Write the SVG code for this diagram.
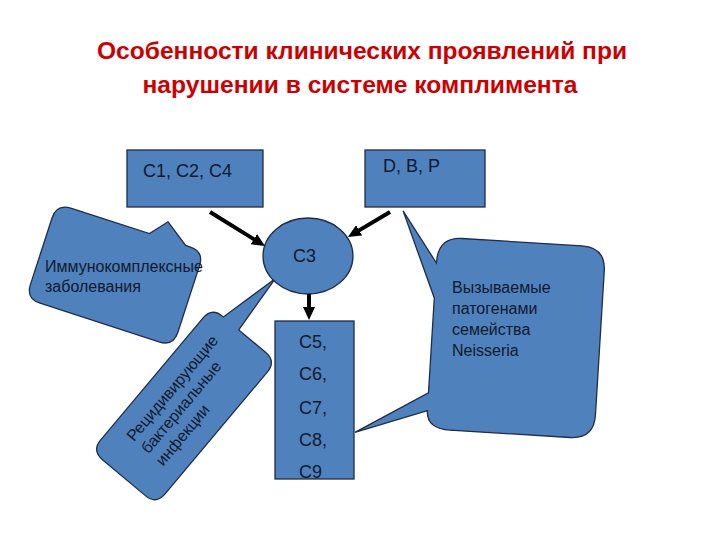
<svg xmlns="http://www.w3.org/2000/svg" width="720" height="540" viewBox="0 0 720 540">
<defs>
<style>
.title{font-family:"Liberation Sans",Arial,sans-serif;font-weight:bold;font-size:23px;fill:#CC0000;text-anchor:middle}
.lbl{font-family:"Liberation Sans",Arial,sans-serif;font-size:18px;fill:#111a2e}
.ct{font-family:"Liberation Sans",Arial,sans-serif;font-size:16px;fill:#111a2e}
.shape{fill:#4F81BD;stroke:#1F2D4A;stroke-width:1.3}
.arrow{stroke:#000;stroke-width:4;fill:none}
</style>
<marker id="ah" viewBox="0 0 13 12" refX="4" refY="6" markerWidth="13" markerHeight="12" markerUnits="userSpaceOnUse" orient="auto">
<path d="M0,0 L13,6 L0,12 z" fill="#000"/>
</marker>
</defs>
<rect width="720" height="540" fill="#fff"/>
<g id="title">
<text class="title" x="362" y="59" textLength="530" lengthAdjust="spacingAndGlyphs">Особенности клинических проявлений  при</text>
<text class="title" x="360" y="93" textLength="435" lengthAdjust="spacingAndGlyphs">нарушении в системе комплимента</text>
</g>
<g id="callout-immune">
<path class="shape" transform="translate(115,275) rotate(18)" d="M-62,-50 L20,-50 L34,-67 L58,-50 L62.5,-50 Q77.5,-50 77.5,-35 L77.5,35 Q77.5,50 62.5,50 L-62.5,50 Q-77.5,50 -77.5,35 L-77.5,-35 Q-77.5,-50 -62,-50 Z"/>
<text class="ct" x="45" y="272">Иммунокомплексные</text>
<text class="ct" x="45" y="292">заболевания</text>
</g>
<g id="callout-recurrent">
<g transform="translate(184,406) rotate(-50)">
<path class="shape" d="M-79.5,-42 L79.5,-42 Q93.5,-42 93.5,-28 L93.5,-27 L156,-12 L93.5,-7 L93.5,28 Q93.5,42 79.5,42 L-79.5,42 Q-93.5,42 -93.5,28 L-93.5,-28 Q-93.5,-42 -79.5,-42 Z"/>
<text class="ct" x="-60" y="-15">Рецидивирующие</text>
<text class="ct" x="-60" y="4">бактериальные</text>
<text class="ct" x="-60" y="23">инфекции</text>
</g>
</g>
<g id="callout-neisseria">
<path class="shape" transform="translate(516,338) rotate(3.5)" d="M-60,-96 L60,-96 Q84,-96 84,-72 L84,72 Q84,96 60,96 L-60,96 Q-84,96 -84,78 L-155,104 L-84,60 L-84,-35 L-120.5,-120 L-84,-70 Q-84,-96 -60,-96 Z"/>
<text class="ct" x="452" y="293" font-size="17">Вызываемые</text>
<text class="ct" x="452" y="314" font-size="17">патогенами</text>
<text class="ct" x="452" y="335" font-size="17">семейства</text>
<text class="ct" x="452" y="356" font-size="17">Neisseria</text>
</g>
<g id="box-c124">
<rect class="shape" x="127" y="150" width="136" height="57"/>
<text class="lbl" x="143" y="177">C1, C2, C4</text>
</g>
<g id="box-dbp">
<rect class="shape" x="365" y="150" width="120" height="57"/>
<text class="lbl" x="383" y="172">D, B, P</text>
</g>
<g id="node-c3">
<ellipse class="shape" cx="308" cy="256" rx="45" ry="38"/>
<text class="lbl" x="293" y="262">C3</text>
</g>
<g id="box-c5-c9">
<rect class="shape" x="275" y="321" width="79" height="158"/>
<text class="lbl" x="299" y="348">C5,</text>
<text class="lbl" x="299" y="380">C6,</text>
<text class="lbl" x="299" y="414">C7,</text>
<text class="lbl" x="299" y="446">C8,</text>
<text class="lbl" x="299" y="478">C9</text>
</g>
<g id="connectors">
<line class="arrow" x1="210" y1="212" x2="257.3" y2="241.3" marker-end="url(#ah)"/>
<line class="arrow" x1="390" y1="212" x2="355.7" y2="232.4" marker-end="url(#ah)"/>
<line class="arrow" x1="309" y1="294" x2="309" y2="311" marker-end="url(#ah)"/>
</g>
</svg>
